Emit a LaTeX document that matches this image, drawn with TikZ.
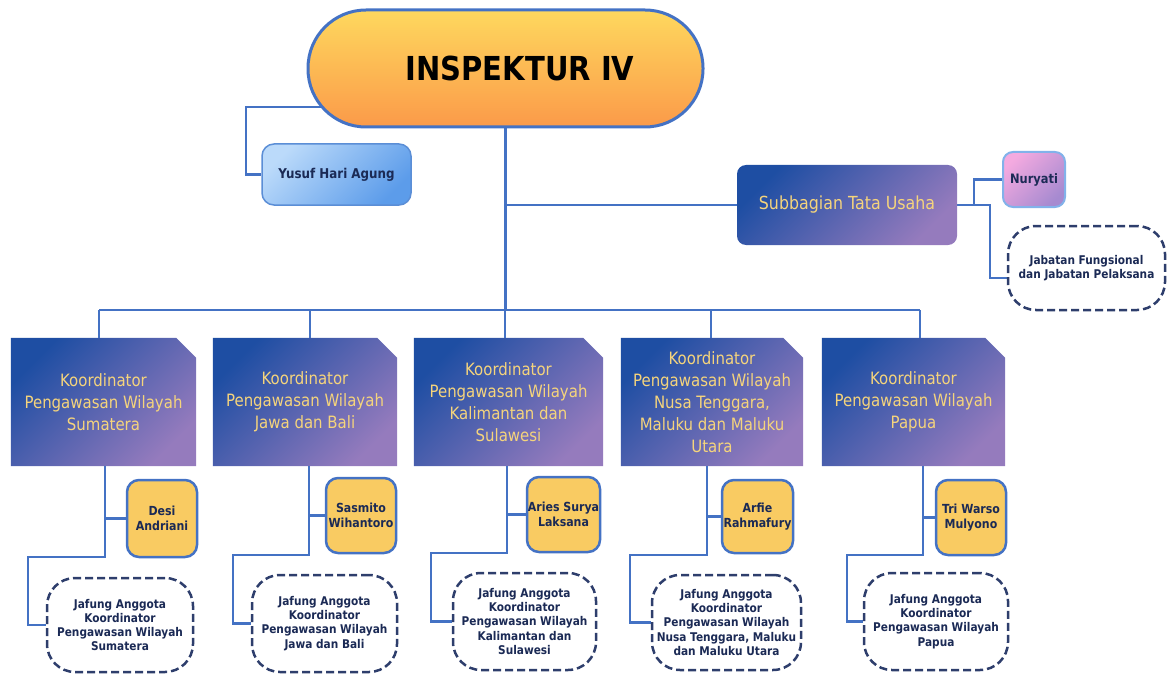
\documentclass[tikz,border=0pt]{standalone}
\usepackage{fontspec}
\setmainfont{DejaVu Sans}[FakeStretch=0.88]
\usetikzlibrary{backgrounds}
\definecolor{connc}{HTML}{4472C4}
\definecolor{oA}{HTML}{FED85E}
\definecolor{oB}{HTML}{FB9A49}
\definecolor{kA}{HTML}{1E4EA3}
\definecolor{kB}{HTML}{957BBD}
\definecolor{ktext}{HTML}{F5D47C}
\definecolor{yA}{HTML}{BBDAFA}
\definecolor{yB}{HTML}{5C9CEA}
\definecolor{yBorder}{HTML}{5B8ED6}
\definecolor{pA}{HTML}{F4AAE0}
\definecolor{pB}{HTML}{A68AD0}
\definecolor{pBorder}{HTML}{82B2EA}
\definecolor{gold}{HTML}{F9CB62}
\definecolor{navy}{HTML}{1B2A55}
\definecolor{dashc}{HTML}{2E3E6C}
\begin{document}
\begin{tikzpicture}[x=1pt,y=-1pt,
  conn/.style={draw=connc, line width=2.5pt},
  inspbox/.style={rectangle, rounded corners=58pt, minimum width=395pt, minimum height=117pt,
    draw=connc, line width=3pt, top color=oA, bottom color=oB, text=black,
    font=\fontsize{33}{40}\selectfont\bfseries},
  koordtext/.style={rectangle, minimum height=128pt, inner sep=0pt, align=center,
    text=ktext, font=\fontsize{17}{22}\selectfont},
  kshade/.style={top color=kA, bottom color=kB, shading angle=45},
  subbox/.style={rectangle, rounded corners=9pt, minimum width=220pt, minimum height=80pt,
    top color=kA, bottom color=kB, shading angle=45, text=ktext,
    font=\fontsize{18}{22}\selectfont},
  yusufbox/.style={rectangle, rounded corners=12pt, minimum width=149pt, minimum height=61pt,
    draw=yBorder, line width=1.5pt, top color=yA, bottom color=yB, shading angle=45,
    text=navy, font=\fontsize{13.5}{16}\selectfont\bfseries},
  nurbox/.style={rectangle, rounded corners=10pt, minimum width=62pt, minimum height=55pt,
    draw=pBorder, line width=2pt, top color=pA, bottom color=pB, shading angle=45,
    text=navy, font=\fontsize{13}{16}\selectfont\bfseries},
  namebox/.style={rectangle, rounded corners=12pt, minimum width=70pt, minimum height=75pt,
    draw=connc, line width=2.5pt, fill=gold, inner sep=0pt, align=center,
    text=navy, font=\fontsize{12.5}{15}\selectfont\bfseries},
  dashbox/.style={rectangle, rounded corners=28pt, draw=dashc, line width=2.5pt,
    dash pattern=on 8pt off 4pt, fill=white, inner sep=0pt, align=center,
    text=navy, font=\fontsize{12}{14.2}\selectfont\bfseries}
]
\useasboundingbox (0,0) rectangle (1173,674);

% top level
\node[inspbox] (insp) at (505.5,68.5) {\hspace*{29pt}INSPEKTUR IV};
\node[yusufbox] (yusuf) at (336.5,174.5) {Yusuf Hari Agung};
\node[subbox] (sub) at (847,205) {Subbagian Tata Usaha};
\node[nurbox] (nur) at (1034,179.5) {Nuryati};
\node[dashbox, minimum width=157pt, minimum height=84pt] (jf) at (1086.5,268)
  {Jabatan Fungsional\\dan Jabatan Pelaksana};

% koordinator boxes
\node[koordtext, minimum width=185pt] (K1) at (103.5,402)
  {Koordinator\\Pengawasan Wilayah\\Sumatera};
\node[koordtext, minimum width=184pt] (K2) at (305,402)
  {Koordinator\\Pengawasan Wilayah\\Jawa dan Bali};
\node[koordtext, minimum width=189pt] (K3) at (508.5,402)
  {Koordinator\\Pengawasan Wilayah\\Kalimantan dan\\Sulawesi};
\node[koordtext, minimum width=182pt] (K4) at (712,402)
  {Koordinator\\Pengawasan Wilayah\\Nusa Tenggara,\\Maluku dan Maluku\\Utara};
\node[koordtext, minimum width=183pt] (K5) at (913.5,402)
  {Koordinator\\Pengawasan Wilayah\\Papua};

% name boxes
\node[namebox, minimum height=77pt] (D1) at (162,518.5) {Desi\\Andriani};
\node[namebox] (D2) at (361,515.5) {Sasmito\\Wihantoro};
\node[namebox, minimum width=73pt] (D3) at (563.5,514.5) {Aries Surya\\Laksana};
\node[namebox, minimum width=71pt, minimum height=73pt] (D4) at (757.5,516.5) {Arfie\\Rahmafury};
\node[namebox] (D5) at (971,517.5) {Tri Warso\\Mulyono};

% dashed member boxes
\node[dashbox, minimum width=146pt, minimum height=94pt] (J1) at (120,625)
  {Jafung Anggota\\Koordinator\\Pengawasan Wilayah\\Sumatera};
\node[dashbox, minimum width=145pt, minimum height=97pt] (J2) at (324.5,623.5)
  {Jafung Anggota\\Koordinator\\Pengawasan Wilayah\\Jawa dan Bali};
\node[dashbox, minimum width=143pt, minimum height=97pt] (J3) at (524.5,621.5)
  {Jafung Anggota\\Koordinator\\Pengawasan Wilayah\\Kalimantan dan\\Sulawesi};
\node[dashbox, minimum width=149pt, minimum height=95pt] (J4) at (726.5,622.5)
  {Jafung Anggota\\Koordinator\\Pengawasan Wilayah\\Nusa Tenggara, Maluku\\dan Maluku Utara};
\node[dashbox, minimum width=144pt, minimum height=97pt] (J5) at (936,621.5)
  {Jafung Anggota\\Koordinator\\Pengawasan Wilayah\\Papua};

\begin{scope}[on background layer]
  % chamfered koordinator shapes
  \foreach \k in {K1,K2,K3,K4,K5}{
    \shade[kshade] (\k.south west) -- (\k.north west) -- ([xshift=-20pt]\k.north east)
      -- ([yshift=-20pt]\k.north east) -- (\k.south east) -- cycle;
  }
  % connectors top
  \coordinate (bus) at (0,310);
  \coordinate (yb) at (246,107);
  \draw[conn] (insp.center |- yb) -- (yb) |- (yusuf.west);
  \draw[conn] (insp.south) -- (insp.south |- bus);
  \draw[conn] (insp.south |- sub.west) -- (sub.west);
  \coordinate (sr1) at (974,0);
  \coordinate (sr2) at (990,0);
  \draw[conn] (sub.east) -- (sub.east -| sr2) |- ([yshift=-10pt]jf.west);
  \draw[conn] (sub.east -| sr1) |- (nur.west);
  % bus and drops
  \coordinate (t1) at ([xshift=-4.5pt]K1.north);
  \coordinate (t2) at ([xshift=5pt]K2.north);
  \coordinate (t3) at ([xshift=-3.5pt]K3.north);
  \coordinate (t4) at ([xshift=-1pt]K4.north);
  \coordinate (t5) at ([xshift=6.5pt]K5.north);
  \draw[conn] (t1 |- bus) -- (t5 |- bus);
  \foreach \t in {t1,t2,t3,t4,t5}{ \draw[conn] (\t) -- (\t |- bus); }
  % lower connectors
  \coordinate (b1) at ([xshift=1.5pt]K1.south);
  \coordinate (b2) at ([xshift=4pt]K2.south);
  \coordinate (b3) at ([xshift=-1.5pt]K3.south);
  \coordinate (b4) at ([xshift=-5pt]K4.south);
  \coordinate (b5) at ([xshift=9.5pt]K5.south);
  \coordinate (h1) at (28,557);
  \coordinate (h2) at (233,555);
  \coordinate (h3) at (431,553);
  \coordinate (h4) at (630,555);
  \coordinate (h5) at (847,555);
  \foreach \i in {1,...,5}{
    \draw[conn] (b\i) |- (D\i.west);
    \draw[conn] (b\i) |- (h\i) |- (J\i.west);
  }
\end{scope}
\end{tikzpicture}
\end{document}
